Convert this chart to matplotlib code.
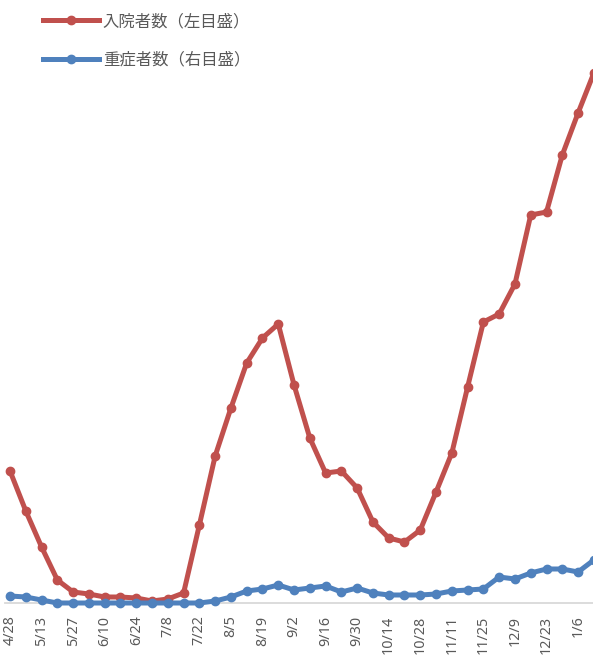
import numpy as np
import matplotlib.pyplot as plt

plt.rcParams['font.family'] = ['Noto Sans CJK JP', 'DejaVu Sans']

dates = ['4/28', '5/6', '5/13', '5/20', '5/27', '6/3', '6/10', '6/17', '6/24', '7/1',
         '7/8', '7/15', '7/22', '7/29', '8/5', '8/12', '8/19', '8/26', '9/2', '9/9',
         '9/16', '9/23', '9/30', '10/7', '10/14', '10/21', '10/28', '11/4', '11/11', '11/18',
         '11/25', '12/2', '12/9', '12/16', '12/23', '12/30', '1/6', '1/13']

# left axis
hospitalized = [3960, 2760, 1680, 690, 330, 270, 180, 180, 150, 60,
                120, 300, 2340, 4410, 5850, 7200, 7950, 8370, 6540, 4950,
                3900, 3960, 3450, 2430, 1950, 1830, 2190, 3330, 4500, 6480,
                8430, 8670, 9570, 11640, 11730, 13440, 14700, 15900]
# right axis
severe = [140, 120, 60, 0, 0, 0, 0, 0, 0, 0,
          0, 0, 0, 40, 120, 240, 280, 360, 260, 300,
          340, 220, 300, 200, 160, 160, 160, 180, 240, 260,
          280, 520, 480, 600, 680, 680, 620, 860]

red = '#C0504D'
blue = '#4F81BD'
gray = '#595959'

x = np.arange(len(dates))
fig = plt.figure(figsize=(5.93, 6.63), dpi=100)
ax1 = fig.add_axes([4.5 / 593, 60 / 663, 592.5 / 593, 600 / 663])
ax2 = ax1.twinx()

l1, = ax1.plot(x, hospitalized, c=red, lw=3.6, marker='o', markersize=6,
               label='入院者数（左目盛）', clip_on=False, zorder=3)
l2, = ax2.plot(x, severe, c=blue, lw=3.6, marker='o', markersize=6,
               label='重症者数（右目盛）', clip_on=False, zorder=3)

ax1.set_xlim(-0.35, 37.2)
ax1.set_ylim(0, 18000)
ax2.set_ylim(0, 12000)

for a in (ax1, ax2):
    for s in ['left', 'right', 'top']:
        a.spines[s].set_visible(False)
    a.set_yticks([])
ax2.spines['bottom'].set_visible(False)
ax1.spines['bottom'].set_color('#D9D9D9')
ax1.spines['bottom'].set_linewidth(1.3)

ax1.set_xticks(x[::2])
ax1.set_xticklabels(dates[::2], rotation=90, fontsize=10.3, color=gray,
                    family=['Noto Sans', 'DejaVu Sans'])
ax1.tick_params(axis='x', length=0, pad=9)

fig.legend([l1, l2], [l1.get_label(), l2.get_label()], loc='upper left',
           bbox_to_anchor=(43 / 593, 1 - 13 / 663), frameon=False, borderpad=0,
           borderaxespad=0, handlelength=3.4, handletextpad=0.25,
           labelspacing=1.3, fontsize=11.8, labelcolor=gray)

plt.savefig('out.png', dpi=100)
